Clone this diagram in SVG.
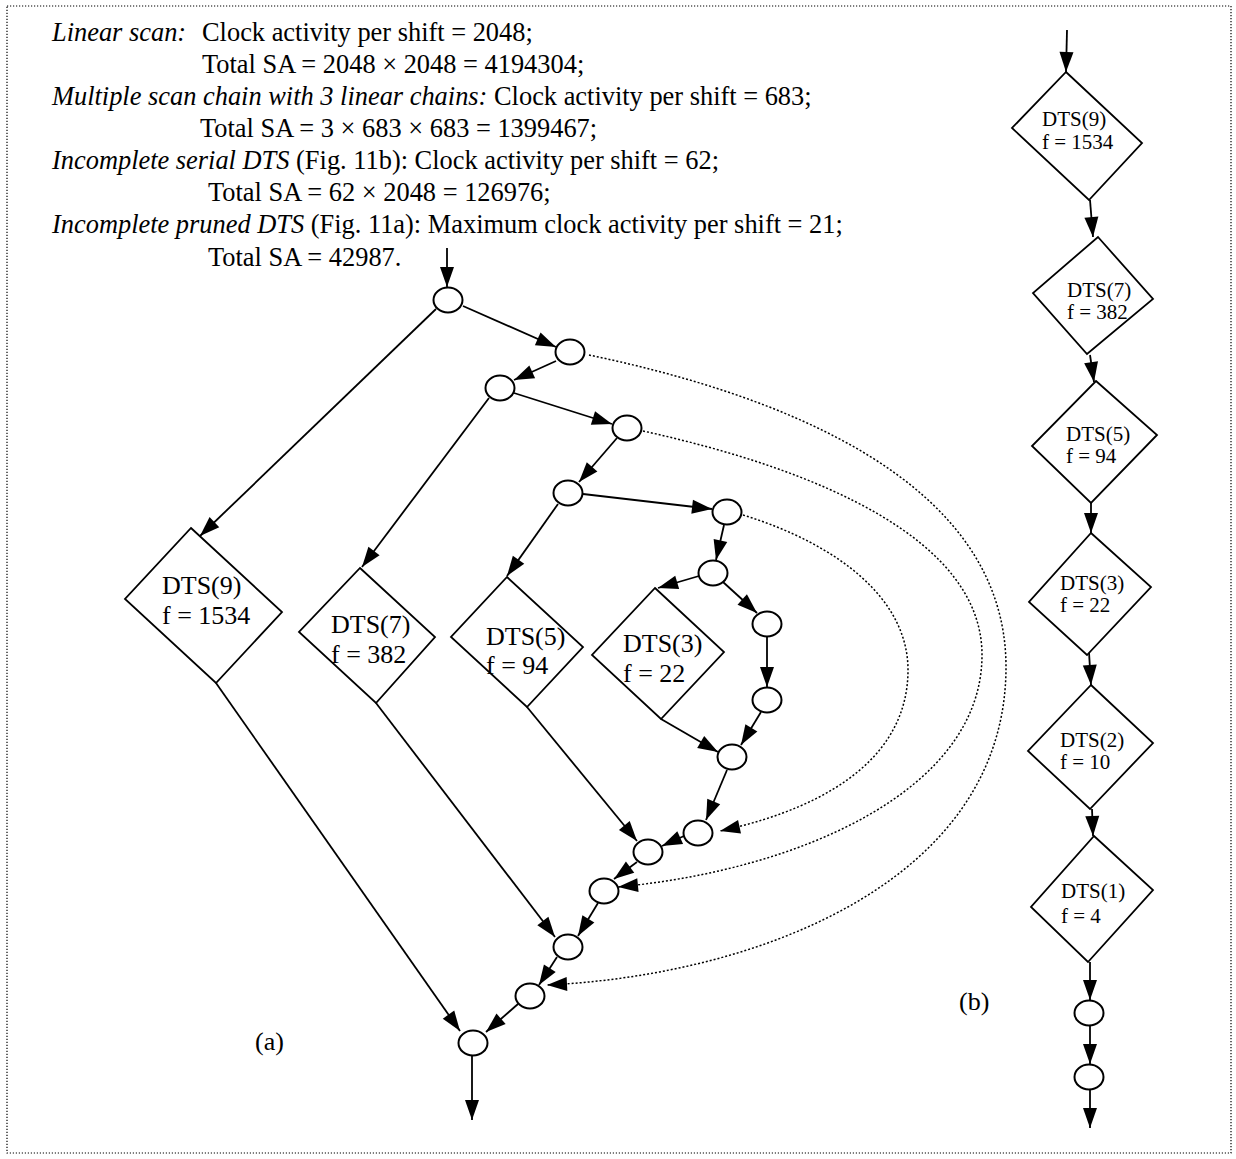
<svg xmlns="http://www.w3.org/2000/svg" width="1236" height="1159" viewBox="0 0 1236 1159">
<style>
.t{font-family:"Liberation Serif","Times New Roman",serif;fill:#000}
.top{font-size:26.4px}
.i{font-style:italic}
.la{font-size:26px}
.lb{font-size:21px}
.n{fill:#fff;stroke:#000;stroke-width:2}
.d{fill:#fff;stroke:#000;stroke-width:1.8}
.c{fill:none;stroke:#000;stroke-width:1.8}
.dot{fill:none;stroke:#000;stroke-width:1.5;stroke-dasharray:2 2}
.a{marker-end:url(#ah)}
</style>
<defs>
<marker id="ah" markerUnits="userSpaceOnUse" markerWidth="20" markerHeight="14" refX="20" refY="7" orient="auto" overflow="visible">
<path d="M0,0 L20,7 L0,14 z" fill="#000"/>
</marker>
</defs>
<rect x="7" y="6" width="1224" height="1147" fill="#fff" stroke="#000" stroke-width="1.2" stroke-dasharray="1.2 1.8"/>
<g id="text-block" class="t top">
<text x="52" y="41"><tspan class="i">Linear scan:</tspan><tspan x="202">Clock activity per shift = 2048;</tspan></text>
<text x="202" y="73">Total SA = 2048 × 2048 = 4194304;</text>
<text x="52" y="105"><tspan class="i">Multiple scan chain with 3 linear chains:</tspan> Clock activity per shift = 683;</text>
<text x="200" y="137">Total SA = 3 × 683 × 683 = 1399467;</text>
<text x="52" y="169"><tspan class="i">Incomplete serial DTS</tspan> (Fig. 11b): Clock activity per shift = 62;</text>
<text x="208" y="201">Total SA = 62 × 2048 = 126976;</text>
<text x="52" y="233"><tspan class="i">Incomplete pruned DTS</tspan> (Fig. 11a): Maximum clock activity per shift = 21;</text>
<text x="208" y="266">Total SA = 42987.</text>
</g>
<g id="connectors">
<line class="c a" x1="447" y1="248" x2="447" y2="287"/>
<line class="c a" x1="436" y1="309" x2="200" y2="536"/>
<line class="c a" x1="463" y1="306" x2="556" y2="347"/>
<line class="c a" x1="556" y1="361" x2="514" y2="380"/>
<line class="c a" x1="489" y1="398" x2="362" y2="567"/>
<line class="c a" x1="514" y1="393" x2="612" y2="424"/>
<line class="c a" x1="617" y1="438" x2="579" y2="482"/>
<line class="c a" x1="558" y1="504" x2="507" y2="576"/>
<line class="c a" x1="583" y1="494" x2="712" y2="509"/>
<line class="c a" x1="724" y1="525" x2="716" y2="560"/>
<line class="c a" x1="699" y1="576" x2="658" y2="588"/>
<line class="c a" x1="723" y1="582" x2="757" y2="613"/>
<line class="c a" x1="767" y1="637" x2="767" y2="687"/>
<line class="c a" x1="761" y1="712" x2="741" y2="745"/>
<line class="c a" x1="661" y1="719" x2="718" y2="752"/>
<line class="c a" x1="727" y1="770" x2="706" y2="820"/>
<line class="c a" x1="684" y1="836" x2="662" y2="846"/>
<line class="c a" x1="527" y1="707" x2="637" y2="841"/>
<line class="c a" x1="637" y1="862" x2="614" y2="879"/>
<line class="c a" x1="598" y1="903" x2="578" y2="936"/>
<line class="c a" x1="376" y1="703" x2="555" y2="937"/>
<line class="c a" x1="557" y1="957" x2="539" y2="985"/>
<line class="c a" x1="216" y1="683" x2="460" y2="1031"/>
<line class="c a" x1="518" y1="1004" x2="486" y2="1032"/>
<line class="c a" x1="472" y1="1056" x2="472" y2="1120"/>
<path class="dot a" d="M589,355 C780,395 1006,480 1006,667 C1006,880 760,975 547,985"/>
<path class="dot a" d="M643,431 C820,470 982,540 982,655 C982,790 800,870 618,887"/>
<path class="dot a" d="M743,515 C840,545 908,600 908,670 C908,750 840,805 720,831"/>
<line class="c a" x1="1067" y1="30" x2="1066" y2="72"/>
<line class="c a" x1="1090" y1="200" x2="1093" y2="237"/>
<line class="c a" x1="1090" y1="355" x2="1094" y2="382"/>
<line class="c a" x1="1091" y1="500" x2="1091" y2="533"/>
<line class="c a" x1="1089" y1="652" x2="1091" y2="685"/>
<line class="c a" x1="1092" y1="809" x2="1093" y2="836"/>
<line class="c a" x1="1090" y1="962" x2="1090" y2="1000"/>
<line class="c a" x1="1090" y1="1026" x2="1090" y2="1064"/>
<line class="c a" x1="1090" y1="1090" x2="1090" y2="1128"/>
</g>
<g id="n0"><ellipse class="n" cx="448" cy="300" rx="14.5" ry="12.5"/></g>
<g id="n1"><ellipse class="n" cx="570" cy="352" rx="14.5" ry="12.5"/></g>
<g id="n2"><ellipse class="n" cx="500" cy="388" rx="14.5" ry="12.5"/></g>
<g id="n3"><ellipse class="n" cx="627" cy="428" rx="14.5" ry="12.5"/></g>
<g id="n4"><ellipse class="n" cx="568" cy="493" rx="14.5" ry="12.5"/></g>
<g id="n5"><ellipse class="n" cx="727" cy="512" rx="14.5" ry="12.5"/></g>
<g id="n6"><ellipse class="n" cx="713" cy="573" rx="14.5" ry="12.5"/></g>
<g id="n6b"><ellipse class="n" cx="767" cy="624" rx="14.5" ry="12.5"/></g>
<g id="n6c"><ellipse class="n" cx="767" cy="700" rx="14.5" ry="12.5"/></g>
<g id="n7"><ellipse class="n" cx="732" cy="757" rx="14.5" ry="12.5"/></g>
<g id="n8"><ellipse class="n" cx="698" cy="833" rx="14.5" ry="12.5"/></g>
<g id="n9"><ellipse class="n" cx="648" cy="852" rx="14.5" ry="12.5"/></g>
<g id="n10"><ellipse class="n" cx="604" cy="891" rx="14.5" ry="12.5"/></g>
<g id="n11"><ellipse class="n" cx="568" cy="947" rx="14.5" ry="12.5"/></g>
<g id="n12"><ellipse class="n" cx="530" cy="996" rx="14.5" ry="12.5"/></g>
<g id="n13"><ellipse class="n" cx="473" cy="1043" rx="14.5" ry="12.5"/></g>
<g id="a-dts9"><polygon class="d" points="191,528 282,612 216,683 125,599"/><text class="t la" x="162" y="594">DTS(9)</text><text class="t la" x="162" y="624">f = 1534</text></g>
<g id="a-dts7"><polygon class="d" points="360,568 435,637 376,703 299,632"/><text class="t la" x="331" y="633">DTS(7)</text><text class="t la" x="331" y="663">f = 382</text></g>
<g id="a-dts5"><polygon class="d" points="507,577 583,647 527,707 451,637"/><text class="t la" x="486" y="645">DTS(5)</text><text class="t la" x="486" y="674">f = 94</text></g>
<g id="a-dts3"><polygon class="d" points="655,588 724,652 661,719 592,655"/><text class="t la" x="623" y="652">DTS(3)</text><text class="t la" x="623" y="682">f = 22</text></g>
<g id="label-a"><text class="t la" x="255" y="1050">(a)</text></g>
<g id="b-dts9"><polygon class="d" points="1066,72 1142,143 1089,200 1012,128"/><text class="t lb" x="1042" y="126">DTS(9)</text><text class="t lb" x="1042" y="149">f = 1534</text></g>
<g id="b-dts7"><polygon class="d" points="1098,237 1153,299 1087,354 1033,293"/><text class="t lb" x="1067" y="297">DTS(7)</text><text class="t lb" x="1067" y="319">f = 382</text></g>
<g id="b-dts5"><polygon class="d" points="1096,381 1157,435 1091,503 1032,446"/><text class="t lb" x="1066" y="441">DTS(5)</text><text class="t lb" x="1066" y="463">f = 94</text></g>
<g id="b-dts3"><polygon class="d" points="1091,533 1151,587 1087,655 1029,602"/><text class="t lb" x="1060" y="590">DTS(3)</text><text class="t lb" x="1060" y="612">f = 22</text></g>
<g id="b-dts2"><polygon class="d" points="1091,685 1153,743 1090,809 1028,751"/><text class="t lb" x="1060" y="747">DTS(2)</text><text class="t lb" x="1060" y="769">f = 10</text></g>
<g id="b-dts1"><polygon class="d" points="1094,836 1153,890 1088,962 1031,907"/><text class="t lb" x="1061" y="898">DTS(1)</text><text class="t lb" x="1061" y="923">f = 4</text></g>
<g id="b-e1"><ellipse class="n" cx="1089" cy="1013" rx="14.5" ry="12.5"/></g>
<g id="b-e2"><ellipse class="n" cx="1089" cy="1077" rx="14.5" ry="12.5"/></g>
<g id="label-b"><text class="t la" x="959" y="1010">(b)</text></g>
</svg>
